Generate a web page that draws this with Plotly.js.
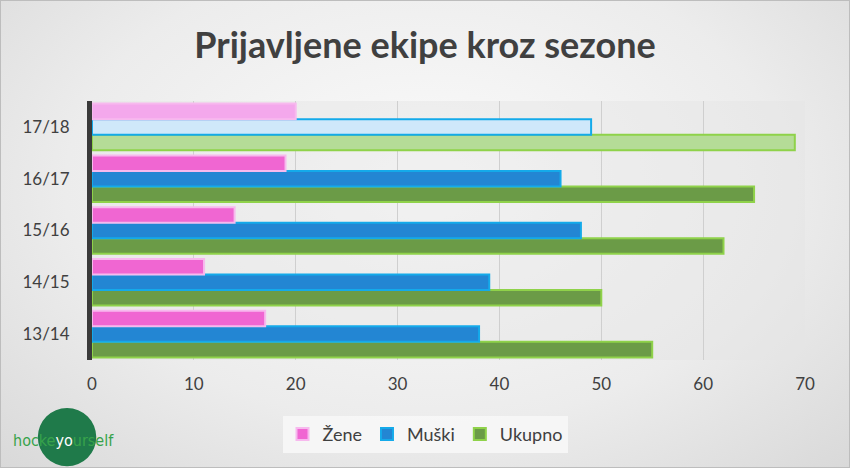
<!DOCTYPE html>
<html><head><meta charset="utf-8">
<script src="https://cdn.plot.ly/plotly-3.0.1.min.js"></script>
<style>
html,body{margin:0;padding:0;}
#wrap{width:850px;height:468px;box-sizing:border-box;border:1px solid #bdbdbd;
background:radial-gradient(ellipse at 50% 40%, #fbfbfb 0%, #ececec 60%, #d9d9d9 100%);}
#chart{width:848px;height:466px;}
</style></head>
<body><div id="wrap"><div id="chart"></div></div>
<script>
var seasons = ['13/14','14/15','15/16','16/17','17/18'];
var zene    = [17, 11, 14, 19, 20];
var muski   = [38, 39, 48, 46, 49];
var ukupno  = [55, 50, 62, 65, 69];
var xTicks  = [0,10,20,30,40,50,60,70];

function cols(normal, hi){ return seasons.map(function(s,i){ return i===seasons.length-1 ? hi : normal; }); }

var font = "Lato, 'Open Sans', sans-serif";
var traces = [
  {type:'bar', orientation:'h', name:'Ukupno', y:seasons, x:ukupno,
   marker:{color:cols('#6b9b47','#b5dc97'), line:{color:'#8fd24a', width:2}}},
  {type:'bar', orientation:'h', name:'Muški', y:seasons, x:muski,
   marker:{color:cols('#2386d3','#cfe8fa'), line:{color:'#14aaea', width:2}}},
  {type:'bar', orientation:'h', name:'Žene', y:seasons, x:zene,
   marker:{color:cols('#f066d2','#f4a8ec'), line:{color:'#f7b9ee', width:2}}}
];
var layout = {
  width:848, height:466,
  margin:{l:91, r:44, t:100, b:107},
  paper_bgcolor:'rgba(0,0,0,0)',
  plot_bgcolor:'rgba(228,228,228,0.45)',
  barmode:'group', bargap:0.1, bargroupgap:0,
  title:{text:'<b>Prijavljene ekipe kroz sezone</b>', x:0.5, xanchor:'center', y:0.905, yanchor:'middle',
         font:{family:font, size:36, color:'#404040'}},
  xaxis:{range:[0,70], tickvals:xTicks, ticktext:xTicks.map(String), showgrid:true, gridcolor:'#cfcfcf', gridwidth:1,
         zeroline:false, showline:false, ticks:'', ticklabelstandoff:12,
         tickfont:{family:font, size:17, color:'#404040'}},
  yaxis:{type:'category', categoryorder:'array', categoryarray:seasons, showgrid:false, zeroline:false,
         showline:true, linecolor:'#3a3a3a', linewidth:5, ticks:'', ticklabelstandoff:14,
         tickfont:{family:font, size:17, color:'#404040'}},
  legend:{orientation:'h', xref:'container', yref:'container', x:0.5, xanchor:'center', y:0.07, yanchor:'middle',
          traceorder:'reversed', bgcolor:'rgba(247,247,247,0.9)', font:{family:font, size:18, color:'#404040'},
          itemwidth:30},
  shapes:[
    {type:'circle', xref:'paper', yref:'paper', x0:-0.076, x1:0.006, y0:-0.41, y1:-0.185,
     fillcolor:'#1f7a4a', line:{width:0}, layer:'above'}
  ],
  annotations:[
    {xref:'paper', yref:'paper', x:-0.113, y:-0.31, xanchor:'left', yanchor:'middle', showarrow:false,
     text:'hocke<span style="color:#ffffff">yo</span>urself', font:{family:"'DejaVu Sans Condensed', sans-serif", size:16, color:'#37a34a'}}
  ]
};
Plotly.newPlot('chart', traces, layout, {displayModeBar:false, staticPlot:true});
</script>
</body></html>
